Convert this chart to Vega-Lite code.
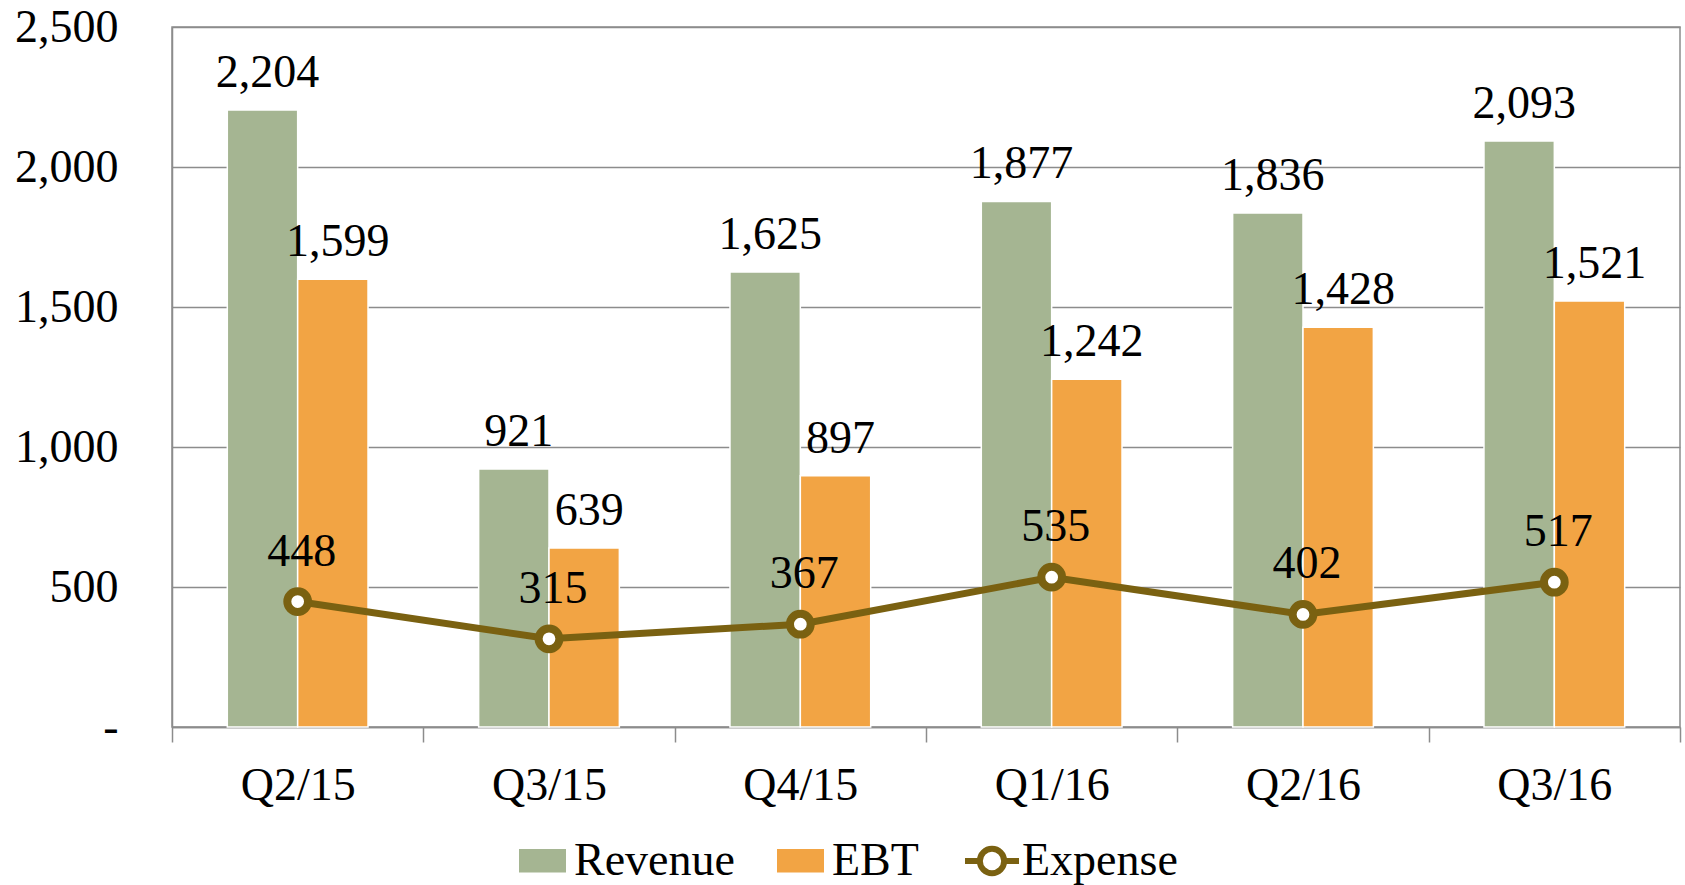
{
  "$schema": "https://vega.github.io/schema/vega-lite/v6.json",
  "width": 1508,
  "height": 700,
  "autosize": {"type": "none"},
  "padding": {"left": 172, "top": 27, "right": 5, "bottom": 158},
  "background": "white",
  "config": {
    "view": {"stroke": "#8c8c8c", "strokeWidth": 1.5},
    "font": "Liberation Serif",
    "text": {"font": "Liberation Serif"}
  },
  "data": {
    "values": [
      {"q": "Q2/15", "series": "Revenue", "value": 2204},
      {"q": "Q3/15", "series": "Revenue", "value": 921},
      {"q": "Q4/15", "series": "Revenue", "value": 1625},
      {"q": "Q1/16", "series": "Revenue", "value": 1877},
      {"q": "Q2/16", "series": "Revenue", "value": 1836},
      {"q": "Q3/16", "series": "Revenue", "value": 2093},
      {"q": "Q2/15", "series": "EBT", "value": 1599},
      {"q": "Q3/15", "series": "EBT", "value": 639},
      {"q": "Q4/15", "series": "EBT", "value": 897},
      {"q": "Q1/16", "series": "EBT", "value": 1242},
      {"q": "Q2/16", "series": "EBT", "value": 1428},
      {"q": "Q3/16", "series": "EBT", "value": 1521},
      {"q": "Q2/15", "series": "Expense", "value": 448},
      {"q": "Q3/15", "series": "Expense", "value": 315},
      {"q": "Q4/15", "series": "Expense", "value": 367},
      {"q": "Q1/16", "series": "Expense", "value": 535},
      {"q": "Q2/16", "series": "Expense", "value": 402},
      {"q": "Q3/16", "series": "Expense", "value": 517}
    ]
  },
  "encoding": {
    "x": {
      "field": "q",
      "type": "nominal",
      "sort": null,
      "scale": {"paddingInner": 0, "paddingOuter": 0},
      "axis": {
        "title": null,
        "labelAngle": 0,
        "labelFont": "Liberation Serif",
        "labelFontSize": 46,
        "labelColor": "black",
        "labelPadding": 21,
        "tickBand": "extent",
        "tickSize": 15,
        "tickColor": "#8c8c8c",
        "tickWidth": 1.5,
        "domainColor": "#8c8c8c",
        "domainWidth": 1.5,
        "grid": false
      }
    },
    "y": {
      "field": "value",
      "type": "quantitative",
      "scale": {"domain": [0, 2500], "nice": false},
      "axis": {
        "title": null,
        "values": [0, 500, 1000, 1500, 2000, 2500],
        "labelExpr": "datum.value === 0 ? '-' : format(datum.value, ',')",
        "ticks": false,
        "labelFont": "Liberation Serif",
        "labelFontSize": 46,
        "labelColor": "black",
        "labelPadding": 54,
        "domainColor": "#8c8c8c",
        "domainWidth": 1.5,
        "gridColor": "#8c8c8c",
        "gridWidth": 1.5,
        "encode": {"labels": {"update": {"dx": {"signal": "datum.value === 0 ? -27 : 0"}}}}
      }
    }
  },
  "layer": [
    {
      "transform": [{"filter": "datum.series !== 'Expense'"}],
      "mark": {"type": "bar", "stroke": "white", "strokeWidth": 1.5},
      "encoding": {
        "xOffset": {"field": "series", "type": "nominal", "sort": ["Revenue", "EBT"], "scale": {"paddingInner": 0, "paddingOuter": 0.786}},
        "fill": {
          "field": "series",
          "type": "nominal",
          "sort": ["Revenue", "EBT"],
          "scale": {"domain": ["Revenue", "EBT"], "range": ["#a5b592", "#f2a444"]},
          "legend": {
            "title": null,
            "orient": "none",
            "legendX": 347,
            "legendY": 810,
            "direction": "horizontal",
            "symbolType": "M-1,-0.5H1V0.5H-1Z",
            "symbolSize": 2209,
            "symbolStrokeWidth": 0,
            "labelFont": "Liberation Serif",
            "labelFontSize": 46,
            "labelColor": "black",
            "labelLimit": 0,
            "labelOffset": 8,
            "columnPadding": 42,
            "padding": 0
          }
        }
      }
    },
    {
      "transform": [{"filter": "datum.series !== 'Expense'"}],
      "mark": {"type": "text", "fontSize": 46, "baseline": "alphabetic", "dy": -23, "dx": 5, "color": "black"},
      "encoding": {
        "xOffset": {"field": "series", "type": "nominal", "sort": ["Revenue", "EBT"]},
        "text": {"field": "value", "type": "quantitative", "format": ","}
      }
    },
    {
      "transform": [{"filter": "datum.series === 'Expense'"}],
      "mark": {"type": "line", "strokeWidth": 7},
      "encoding": {
        "stroke": {
          "field": "series",
          "type": "nominal",
          "scale": {"domain": ["Expense"], "range": ["#7a6111"]},
          "legend": {
            "title": null,
            "orient": "none",
            "legendX": 790,
            "legendY": 804,
            "direction": "horizontal",
            "symbolType": "M-1,0H-0.45M0.45,0H1M-0.45,0A0.45,0.45,0,1,1,0.45,0A0.45,0.45,0,1,1,-0.45,0",
            "symbolSize": 2916,
            "symbolStrokeWidth": 6,
            "labelFont": "Liberation Serif",
            "labelFontSize": 46,
            "labelColor": "black",
            "labelLimit": 0,
            "labelOffset": 0,
            "padding": 0,
            "encode": {"symbols": {"update": {"fill": {"value": "white"}, "stroke": {"value": "#7a6111"}, "strokeWidth": {"value": 6}}}}
          }
        }
      }
    },
    {
      "transform": [{"filter": "datum.series === 'Expense'"}],
      "mark": {"type": "point", "filled": true, "fill": "white", "stroke": "#7a6111", "strokeWidth": 8, "size": 430, "opacity": 1},
      "encoding": {}
    },
    {
      "transform": [{"filter": "datum.series === 'Expense'"}],
      "mark": {"type": "text", "fontSize": 46, "baseline": "alphabetic", "dy": -36, "dx": 4, "color": "black"},
      "encoding": {
        "text": {"field": "value", "type": "quantitative", "format": ","}
      }
    }
  ]
}
